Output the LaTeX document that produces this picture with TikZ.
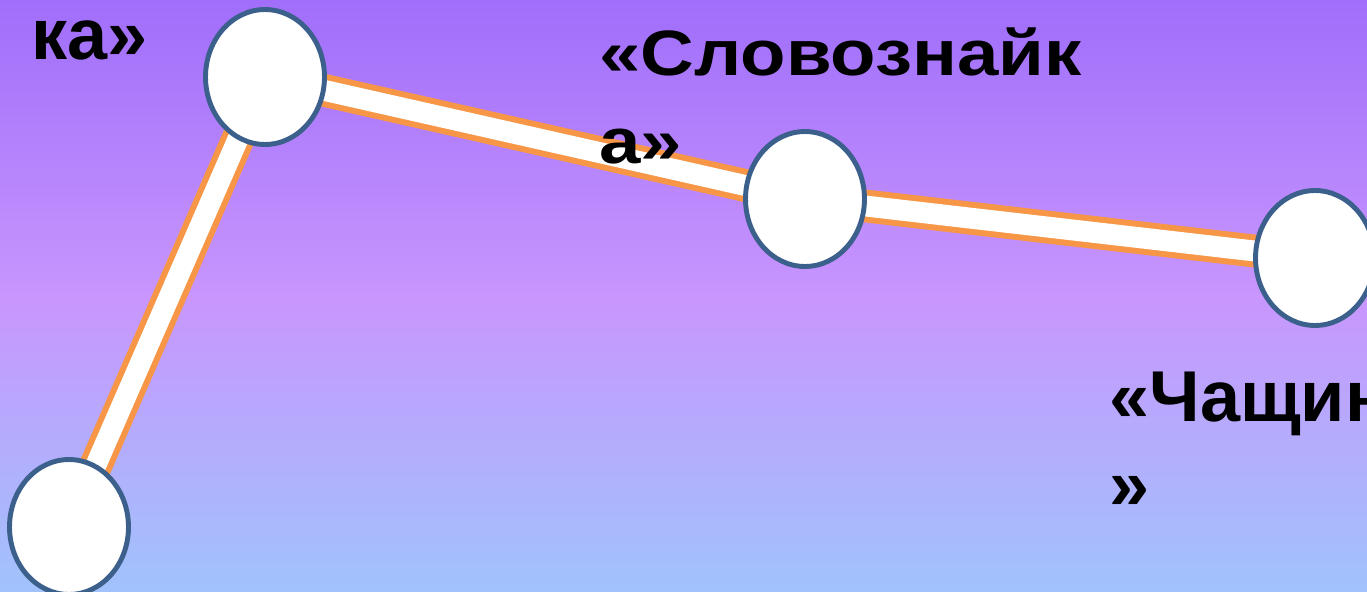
\documentclass[tikz,border=0pt]{standalone}
\usepackage{fontspec}
\setmainfont{Liberation Sans}
\usetikzlibrary{shapes.geometric}
\definecolor{topviolet}{RGB}{160,110,250}
\definecolor{midviolet}{RGB}{200,150,253}
\definecolor{lowblue}{RGB}{160,195,252}
\definecolor{barorange}{RGB}{247,150,70}
\definecolor{ringblue}{RGB}{60,96,140}
\pgfdeclarelayer{back}
\pgfdeclarelayer{bars}
\pgfsetlayers{back,bars,main}

\begin{document}
\begin{tikzpicture}[x=0.02cm,y=-0.02cm,
  station/.style={ellipse,draw=ringblue,line width=2.8pt,fill=white,
   minimum width=2.38cm,minimum height=2.7cm,inner sep=0pt},
  rail/.style={draw=barorange,line width=3.4pt,double=white,double distance=11.9pt},
  signtext/.style={anchor=base west,inner sep=0pt,align=left,
   font=\fontsize{41}{50}\selectfont\bfseries}]
 \useasboundingbox (0,0) rectangle (1367,592);
 \begin{pgfonlayer}{back}
  \shade[top color=topviolet,bottom color=lowblue,middle color=midviolet]
   (0,0) rectangle (1367,592);
 \end{pgfonlayer}
 \clip (0,0) rectangle (1367,592);
 % stations
 \node[station] (e1) at (265,77) {};
 \node[station] (e2) at (805,199) {};
 \node[station] (e3) at (1315,258) {};
 \node[station] (e4) at (69,527) {};
 \begin{pgfonlayer}{bars}
  \draw[rail] (e4.center) -- (e1.center) -- (e2.center) -- (e3.center);
 \end{pgfonlayer}
 % names (anchor sits on the last line)
 \node[signtext] (t1) at (31,59) {ка»};
 \node[signtext,font=\fontsize{36.5}{50}\selectfont\bfseries\addfontfeatures{FakeStretch=1.16}]
  (t2) at (599,163) {«Словознайк\\а»};
 \node[signtext] (t3) at (1109,509) {«Чащинк\\»};
\end{tikzpicture}
\end{document}
